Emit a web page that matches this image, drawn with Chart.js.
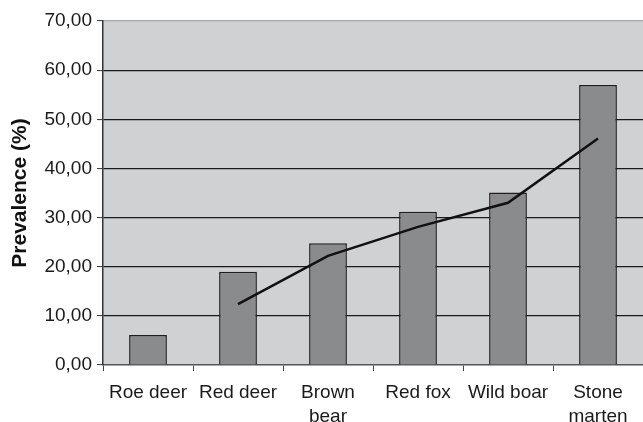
<!DOCTYPE html>
<html>
<head>
<meta charset="utf-8">
<script src="https://cdn.jsdelivr.net/npm/chart.js@4/dist/chart.umd.min.js"></script>
<style>
  html, body { margin: 0; padding: 0; background: #ffffff; overflow: hidden; }
  #wrap { width: 643px; height: 422px; position: relative; }
</style>
</head>
<body>
<div id="wrap"><canvas id="c" width="643" height="422"></canvas></div>
<script>
// Prevalence by host species
const categories = ['Roe deer', 'Red deer', ['Brown', 'bear'], 'Red fox', 'Wild boar', ['Stone', 'marten']];
const prevalence = [6.1, 19.0, 24.8, 31.2, 35.1, 57.0];
const trend = [null, 12.4, 22.2, 28.1, 33.0, 46.1];
const yTicks = [0, 10, 20, 30, 40, 50, 60, 70];

const FONT = '"Liberation Sans", Arial, Helvetica, sans-serif';

// grey plot background behind the bars
const plotBackground = {
  id: 'plotBackground',
  beforeDraw(chart) {
    const { ctx, chartArea: a } = chart;
    ctx.save();
    ctx.fillStyle = '#d0d1d3';
    ctx.fillRect(a.left, a.top, a.right - a.left, a.bottom - a.top);
    ctx.restore();
  }
};

new Chart(document.getElementById('c'), {
  data: {
    labels: categories,
    datasets: [
      {
        type: 'line',
        data: trend,
        borderColor: '#111111',
        borderWidth: 2.5,
        pointRadius: 0,
        tension: 0,
        fill: false,
        spanGaps: false,
        order: 0
      },
      {
        type: 'bar',
        data: prevalence,
        backgroundColor: '#8a8b8d',
        borderColor: '#1e1e1e',
        borderWidth: 1.5,
        barPercentage: 0.42,
        categoryPercentage: 1.0,
        order: 1
      }
    ]
  },
  options: {
    responsive: false,
    animation: false,
    devicePixelRatio: 1,
    layout: { padding: { left: 0, right: 0, top: 21, bottom: 0 } },
    plugins: {
      legend: { display: false },
      tooltip: { enabled: false }
    },
    scales: {
      x: {
        type: 'category',
        offset: true,
        grid: {
          offset: true,
          drawOnChartArea: false,
          drawTicks: true,
          tickLength: 6,
          tickColor: '#444444',
          tickWidth: 1
        },
        border: { display: true, color: '#555555', width: 1.5 },
        ticks: {
          color: '#1a1a1a',
          font: { family: FONT, size: 19, lineHeight: 1.27 },
          padding: 10,
          maxRotation: 0,
          autoSkip: false
        },
        afterFit(scale) { scale.height = 57; }
      },
      y: {
        min: 0,
        max: 70,
        afterBuildTicks(scale) { scale.ticks = yTicks.map(v => ({ value: v })); },
        grid: {
          color: ctx => (ctx.tick && ctx.tick.value === 70) ? '#a8a8a8' : (ctx.tick && ctx.tick.value === 0 ? 'rgba(0,0,0,0)' : '#1a1a1a'),
          lineWidth: 1.2,
          drawTicks: true,
          tickLength: 6,
          tickColor: '#333333',
          tickWidth: 1
        },
        border: { display: true, color: '#333333', width: 1.5 },
        ticks: {
          color: '#1a1a1a',
          font: { family: FONT, size: 19 },
          padding: 5,
          callback: v => Number(v).toFixed(2).replace('.', ',')
        },
        title: {
          display: true,
          text: 'Prevalence (%)',
          color: '#111111',
          font: { family: FONT, size: 21, weight: 'bold' },
          padding: { top: 8, bottom: 0 }
        },
        afterFit(scale) { scale.width = 103; }
      }
    }
  },
  plugins: [plotBackground]
});
</script>
</body>
</html>
